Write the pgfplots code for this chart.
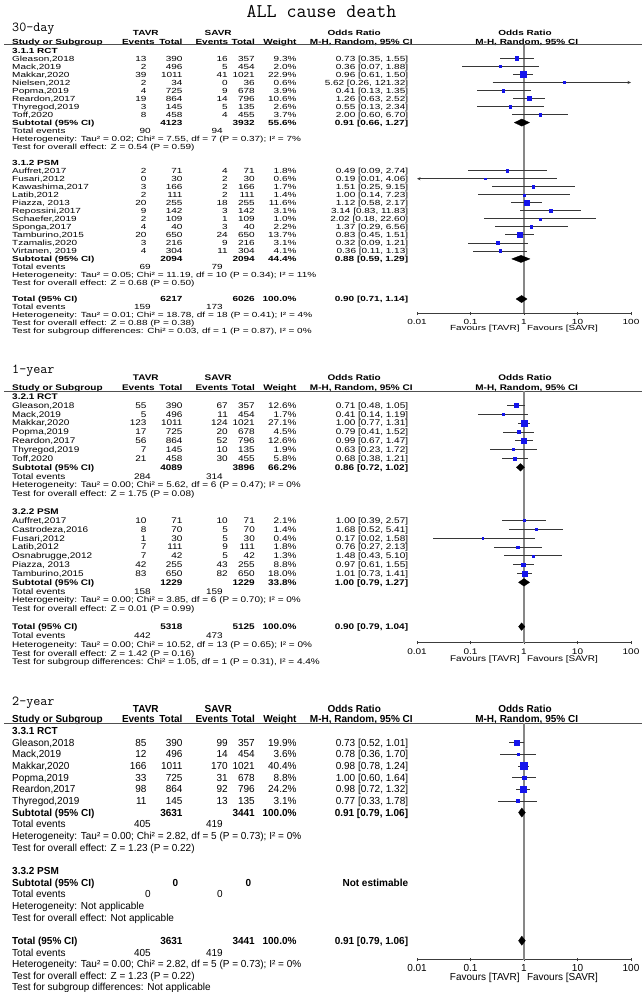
\documentclass[border=0pt]{standalone}
\usepackage{fontspec}
\usepackage{graphicx}
\usepackage{pgfplots}
\pgfplotsset{compat=1.18}
\usetikzlibrary{arrows.meta}
\newfontfamily\fa{Liberation Sans}[FakeStretch=1.35]
\newfontfamily\fb{Liberation Sans}[FakeStretch=1.225]
\newfontfamily\fc{Liberation Sans}[FakeStretch=0.98]
\definecolor{sqblue}{RGB}{20,20,235}
\definecolor{cigray}{RGB}{55,55,55}
\definecolor{vgray}{RGB}{135,135,135}
\definecolor{hgray}{RGB}{80,80,80}
\definecolor{axgray}{RGB}{60,60,60}
\tikzset{
 L/.style={anchor=west, inner sep=0pt, text height=\capht, text depth=0pt, font=\pfont},
 R/.style={anchor=east, inner sep=0pt, text height=\capht, text depth=0pt, font=\pfont},
 C/.style={anchor=center, inner sep=0pt, text height=\capht, text depth=0pt, font=\pfont}}
\newcommand\rowy[1]{-(\yz+\dy*(#1))}
\newcommand\tL[3]{\node[L] at (#1pt,{\rowy{#2}*1pt}) {#3};}
\newcommand\tR[3]{\node[R] at (#1pt,{\rowy{#2}*1pt}) {#3};}
\newcommand\study[8]{\tL{12}{#1}{#2}\tR{146.7}{#1}{#3}\tR{182.7}{#1}{#4}\tR{228}{#1}{#5}\tR{255}{#1}{#6}\tR{296.7}{#1}{#7\%}\tR{408.3}{#1}{#8}}
\newcommand\subt[6]{\tL{12}{#1}{\bfseries #2}\tR{182.7}{#1}{\bfseries #3}\tR{255}{#1}{\bfseries #4}\tR{296.7}{#1}{\bfseries #5\%}\tR{408.3}{#1}{\bfseries #6}}
\newcommand\totev[3]{\tL{12}{#1}{Total events}\tR{151}{#1}{#2}\tR{223}{#1}{#3}}
\newcommand\header[4]{% #1 tavr y, #2 study y, #3 line y, #4 favours y
 \node[C] at (145.8pt,-#1pt) {\bfseries TAVR};
 \node[C] at (218.2pt,-#1pt) {\bfseries SAVR};
 \node[C] at (354.2pt,-#1pt) {\bfseries Odds Ratio};
 \node[C] at (525pt,-#1pt) {\bfseries Odds Ratio};
 \node[L] at (12pt,-#2pt) {\bfseries Study or Subgroup};
 \node[R] at (155pt,-#2pt) {\bfseries Events};
 \node[R] at (182.7pt,-#2pt) {\bfseries Total};
 \node[R] at (228.5pt,-#2pt) {\bfseries Events};
 \node[R] at (255pt,-#2pt) {\bfseries Total};
 \node[R] at (296.7pt,-#2pt) {\bfseries Weight};
 \node[C] at (361.3pt,-#2pt) {\bfseries M-H, Random, 95\% CI};
 \node[C] at (526.7pt,-#2pt) {\bfseries M-H, Random, 95\% CI};
 \draw[hgray, line width=0.9pt] (4pt,-#3pt) -- (642pt,-#3pt);
 \node[R] at (519.8pt,-#4pt) {Favours [TAVR]};
 \node[L] at (526.8pt,-#4pt) {Favours [SAVR]};}
\pgfplotsset{every axis/.append style={anchor=south west, scale only axis, width=214pt,
  xmode=log, xmin=0.01, xmax=100, axis x line*=bottom, axis y line=none, ytick=\empty,
  xtick={0.01,0.1,1,10,100}, xticklabels={0.01,0.1,1,10,100}, xminorticks=false,
  xtick align=center, major tick length=3.5pt,
  x axis line style={draw=axgray, line width=0.8pt},
  tick style={draw=axgray, line width=0.8pt}, clip=false,
  xticklabel style={font=\pfont, inner sep=0pt, anchor=center, text height=\capht, text depth=0pt, yshift=-7pt}}}
\begin{document}
\begin{tikzpicture}
\path[use as bounding box] (0pt,0pt) rectangle (643pt,-992pt);
\node[anchor=base, inner sep=0pt, font=\ttfamily\fontsize{19.4}{20}\selectfont] at (321.5pt,-17.5pt) {ALL cause death};
% ================= Panel 1 =================
\begin{scope}
\def\pfont{\fa\fontsize{7.4}{9}\selectfont}\def\capht{5.3pt}
\def\yz{50.4}\def\dy{8.02}
\node[anchor=base west, inner sep=0pt, font=\ttfamily\fontsize{13.7}{14}\selectfont] at (12pt,-31.2pt) {30-day};
\header{32.5}{41.5}{44.8}{328}
\tL{12}{0}{\bfseries 3.1.1 RCT}
\study{1}{Gleason,2018}{13}{390}{16}{357}{9.3}{0.73 [0.35, 1.55]}
\study{2}{Mack,2019}{2}{496}{5}{454}{2.0}{0.36 [0.07, 1.88]}
\study{3}{Makkar,2020}{39}{1011}{41}{1021}{22.9}{0.96 [0.61, 1.50]}
\study{4}{Nielsen,2012}{2}{34}{0}{36}{0.6}{5.62 [0.26, 121.32]}
\study{5}{Popma,2019}{4}{725}{9}{678}{3.9}{0.41 [0.13, 1.35]}
\study{6}{Reardon,2017}{19}{864}{14}{796}{10.6}{1.26 [0.63, 2.52]}
\study{7}{Thyregod,2019}{3}{145}{5}{135}{2.6}{0.55 [0.13, 2.34]}
\study{8}{Toff,2020}{8}{458}{4}{455}{3.7}{2.00 [0.60, 6.70]}
\subt{9}{Subtotal (95\% CI)}{4123}{3932}{55.6}{0.91 [0.66, 1.27]}
\totev{10}{90}{94}
\tL{12}{11}{Heterogeneity: Tau² = 0.02; Chi² = 7.55, df = 7 (P = 0.37); I² = 7\%}
\tL{12}{12}{Test for overall effect: Z = 0.54 (P = 0.59)}
\tL{12}{14}{\bfseries 3.1.2 PSM}
\study{15}{Auffret,2017}{2}{71}{4}{71}{1.8}{0.49 [0.09, 2.74]}
\study{16}{Fusari,2012}{0}{30}{2}{30}{0.6}{0.19 [0.01, 4.06]}
\study{17}{Kawashima,2017}{3}{166}{2}{166}{1.7}{1.51 [0.25, 9.15]}
\study{18}{Latib,2012}{2}{111}{2}{111}{1.4}{1.00 [0.14, 7.23]}
\study{19}{Piazza, 2013}{20}{255}{18}{255}{11.6}{1.12 [0.58, 2.17]}
\study{20}{Repossini,2017}{9}{142}{3}{142}{3.1}{3.14 [0.83, 11.83]}
\study{21}{Schaefer,2019}{2}{109}{1}{109}{1.0}{2.02 [0.18, 22.60]}
\study{22}{Sponga,2017}{4}{40}{3}{40}{2.2}{1.37 [0.29, 6.56]}
\study{23}{Tamburino,2015}{20}{650}{24}{650}{13.7}{0.83 [0.45, 1.51]}
\study{24}{Tzamalis,2020}{3}{216}{9}{216}{3.1}{0.32 [0.09, 1.21]}
\study{25}{Virtanen, 2019}{4}{304}{11}{304}{4.1}{0.36 [0.11, 1.13]}
\subt{26}{Subtotal (95\% CI)}{2094}{2094}{44.4}{0.88 [0.59, 1.29]}
\totev{27}{69}{79}
\tL{12}{28}{Heterogeneity: Tau² = 0.05; Chi² = 11.19, df = 10 (P = 0.34); I² = 11\%}
\tL{12}{29}{Test for overall effect: Z = 0.68 (P = 0.50)}
\subt{31}{Total (95\% CI)}{6217}{6026}{100.0}{0.90 [0.71, 1.14]}
\totev{32}{159}{173}
\tL{12}{33}{Heterogeneity: Tau² = 0.01; Chi² = 18.78, df = 18 (P = 0.41); I² = 4\%}
\tL{12}{34}{Test for overall effect: Z = 0.88 (P = 0.38)}
\tL{12}{35}{Test for subgroup differences: Chi² = 0.03, df = 1 (P = 0.87), I² = 0\%}
\begin{axis}[at={(417pt,-313.3pt)}, height=268.5pt, ymin=-313.3, ymax=-44.8]
\addplot[vgray, line width=1.3pt] coordinates {(1,-44.8) (1,-313.3)};
\addplot[scatter, only marks, mark=square*,
  scatter/use mapped color={draw=sqblue, fill=sqblue},
  visualization depends on={0.4+0.5*sqrt(\thisrow{w}) \as \msz},
  scatter/@pre marker code/.append style={/tikz/mark size=\msz},
  error bars/x dir=both, error bars/x explicit, error bars/error mark=none,
  error bars/error bar style={draw=cigray, line width=0.75pt}]
 table[x=or, y expr={\rowy{\thisrow{i}}}, x error plus expr={\thisrow{hi}-\thisrow{or}}, x error minus expr={\thisrow{or}-\thisrow{lo}}] {
i or lo hi w
1 0.73 0.35 1.55 9.3
2 0.36 0.07 1.88 2.0
3 0.96 0.61 1.50 22.9
4 5.62 5.62 5.62 0.6
5 0.41 0.13 1.35 3.9
6 1.26 0.63 2.52 10.6
7 0.55 0.13 2.34 2.6
8 2.00 0.60 6.70 3.7
15 0.49 0.09 2.74 1.8
16 0.19 0.19 0.19 0.6
17 1.51 0.25 9.15 1.7
18 1.00 0.14 7.23 1.4
19 1.12 0.58 2.17 11.6
20 3.14 0.83 11.83 3.1
21 2.02 0.18 22.60 1.0
22 1.37 0.29 6.56 2.2
23 0.83 0.45 1.51 13.7
24 0.32 0.09 1.21 3.1
25 0.36 0.11 1.13 4.1
};
\addplot[draw=cigray, line width=0.75pt, -{Stealth[length=3.5pt,width=3pt]}] coordinates {(0.26,-82.48) (100,-82.48)};
\addplot[draw=cigray, line width=0.75pt, {Stealth[length=3.5pt,width=3pt]}-] coordinates {(0.01,-178.72) (4.06,-178.72)};
\addplot[fill=black, draw=black, line width=0.3pt] coordinates {(0.66,-122.58) (0.91,-118.98) (1.27,-122.58) (0.91,-126.18)} -- cycle;
\addplot[fill=black, draw=black, line width=0.3pt] coordinates {(0.59,-258.92) (0.88,-255.32) (1.29,-258.92) (0.88,-262.52)} -- cycle;
\addplot[fill=black, draw=black, line width=0.3pt] coordinates {(0.71,-299.02) (0.90,-295.42) (1.14,-299.02) (0.90,-302.62)} -- cycle;
\end{axis}
\end{scope}
% ================= Panel 2 =================
\begin{scope}
\def\pfont{\fb\fontsize{8.15}{9}\selectfont}\def\capht{5.84pt}
\def\yz{396.5}\def\dy{8.85}
\node[anchor=base west, inner sep=0pt, font=\ttfamily\fontsize{13.7}{14}\selectfont] at (12pt,-373.3pt) {1-year};
\header{378}{387.5}{391}{658.5}
\tL{12}{0}{\bfseries 3.2.1 RCT}
\study{1}{Gleason,2018}{55}{390}{67}{357}{12.6}{0.71 [0.48, 1.05]}
\study{2}{Mack,2019}{5}{496}{11}{454}{1.7}{0.41 [0.14, 1.19]}
\study{3}{Makkar,2020}{123}{1011}{124}{1021}{27.1}{1.00 [0.77, 1.31]}
\study{4}{Popma,2019}{17}{725}{20}{678}{4.5}{0.79 [0.41, 1.52]}
\study{5}{Reardon,2017}{56}{864}{52}{796}{12.6}{0.99 [0.67, 1.47]}
\study{6}{Thyregod,2019}{7}{145}{10}{135}{1.9}{0.63 [0.23, 1.72]}
\study{7}{Toff,2020}{21}{458}{30}{455}{5.8}{0.68 [0.38, 1.21]}
\subt{8}{Subtotal (95\% CI)}{4089}{3896}{66.2}{0.86 [0.72, 1.02]}
\totev{9}{284}{314}
\tL{12}{10}{Heterogeneity: Tau² = 0.00; Chi² = 5.62, df = 6 (P = 0.47); I² = 0\%}
\tL{12}{11}{Test for overall effect: Z = 1.75 (P = 0.08)}
\tL{12}{13}{\bfseries 3.2.2 PSM}
\study{14}{Auffret,2017}{10}{71}{10}{71}{2.1}{1.00 [0.39, 2.57]}
\study{15}{Castrodeza,2016}{8}{70}{5}{70}{1.4}{1.68 [0.52, 5.41]}
\study{16}{Fusari,2012}{1}{30}{5}{30}{0.4}{0.17 [0.02, 1.58]}
\study{17}{Latib,2012}{7}{111}{9}{111}{1.8}{0.76 [0.27, 2.13]}
\study{18}{Osnabrugge,2012}{7}{42}{5}{42}{1.3}{1.48 [0.43, 5.10]}
\study{19}{Piazza, 2013}{42}{255}{43}{255}{8.8}{0.97 [0.61, 1.55]}
\study{20}{Tamburino,2015}{83}{650}{82}{650}{18.0}{1.01 [0.73, 1.41]}
\subt{21}{Subtotal (95\% CI)}{1229}{1229}{33.8}{1.00 [0.79, 1.27]}
\totev{22}{158}{159}
\tL{12}{23}{Heterogeneity: Tau² = 0.00; Chi² = 3.85, df = 6 (P = 0.70); I² = 0\%}
\tL{12}{24}{Test for overall effect: Z = 0.01 (P = 0.99)}
\subt{26}{Total (95\% CI)}{5318}{5125}{100.0}{0.90 [0.79, 1.04]}
\totev{27}{442}{473}
\tL{12}{28}{Heterogeneity: Tau² = 0.00; Chi² = 10.52, df = 13 (P = 0.65); I² = 0\%}
\tL{12}{29}{Test for overall effect: Z = 1.42 (P = 0.16)}
\tL{12}{30}{Test for subgroup differences: Chi² = 1.05, df = 1 (P = 0.31), I² = 4.4\%}
\begin{axis}[at={(417pt,-642.5pt)}, height=251.5pt, ymin=-642.5, ymax=-391]
\addplot[vgray, line width=1.3pt] coordinates {(1,-391) (1,-642.5)};
\addplot[scatter, only marks, mark=square*,
  scatter/use mapped color={draw=sqblue, fill=sqblue},
  visualization depends on={0.4+0.5*sqrt(\thisrow{w}) \as \msz},
  scatter/@pre marker code/.append style={/tikz/mark size=\msz},
  error bars/x dir=both, error bars/x explicit, error bars/error mark=none,
  error bars/error bar style={draw=cigray, line width=0.75pt}]
 table[x=or, y expr={\rowy{\thisrow{i}}}, x error plus expr={\thisrow{hi}-\thisrow{or}}, x error minus expr={\thisrow{or}-\thisrow{lo}}] {
i or lo hi w
1 0.71 0.48 1.05 12.6
2 0.41 0.14 1.19 1.7
3 1.00 0.77 1.31 27.1
4 0.79 0.41 1.52 4.5
5 0.99 0.67 1.47 12.6
6 0.63 0.23 1.72 1.9
7 0.68 0.38 1.21 5.8
14 1.00 0.39 2.57 2.1
15 1.68 0.52 5.41 1.4
16 0.17 0.02 1.58 0.4
17 0.76 0.27 2.13 1.8
18 1.48 0.43 5.10 1.3
19 0.97 0.61 1.55 8.8
20 1.01 0.73 1.41 18.0
};
\addplot[fill=black, draw=black, line width=0.3pt] coordinates {(0.72,-467.3) (0.86,-463.5) (1.02,-467.3) (0.86,-471.1)} -- cycle;
\addplot[fill=black, draw=black, line width=0.3pt] coordinates {(0.79,-582.35) (1.00,-578.55) (1.27,-582.35) (1.00,-586.15)} -- cycle;
\addplot[fill=black, draw=black, line width=0.3pt] coordinates {(0.79,-626.6) (0.90,-622.8) (1.04,-626.6) (0.90,-630.4)} -- cycle;
\end{axis}
\end{scope}
% ================= Panel 3 =================
\begin{scope}
\def\pfont{\fc\fontsize{10.2}{12}\selectfont}\def\capht{7.3pt}
\def\yz{731}\def\dy{11.65}
\node[anchor=base west, inner sep=0pt, font=\ttfamily\fontsize{13.7}{14}\selectfont] at (12pt,-705.7pt) {2-year};
\header{709.3}{718.5}{723}{976.7}
\tL{12}{0}{\bfseries 3.3.1 RCT}
\study{1}{Gleason,2018}{85}{390}{99}{357}{19.9}{0.73 [0.52, 1.01]}
\study{2}{Mack,2019}{12}{496}{14}{454}{3.6}{0.78 [0.36, 1.70]}
\study{3}{Makkar,2020}{166}{1011}{170}{1021}{40.4}{0.98 [0.78, 1.24]}
\study{4}{Popma,2019}{33}{725}{31}{678}{8.8}{1.00 [0.60, 1.64]}
\study{5}{Reardon,2017}{98}{864}{92}{796}{24.2}{0.98 [0.72, 1.32]}
\study{6}{Thyregod,2019}{11}{145}{13}{135}{3.1}{0.77 [0.33, 1.78]}
\subt{7}{Subtotal (95\% CI)}{3631}{3441}{100.0}{0.91 [0.79, 1.06]}
\totev{8}{405}{419}
\tL{12}{9}{Heterogeneity: Tau² = 0.00; Chi² = 2.82, df = 5 (P = 0.73); I² = 0\%}
\tL{12}{10}{Test for overall effect: Z = 1.23 (P = 0.22)}
\tL{12}{12}{\bfseries 3.3.2 PSM}
\tL{12}{13}{\bfseries Subtotal (95\% CI)}
\tR{178.5}{13}{\bfseries 0}
\tR{251.5}{13}{\bfseries 0}
\tR{408.3}{13}{\bfseries Not estimable}
\totev{14}{0}{0}
\tL{12}{15}{Heterogeneity: Not applicable}
\tL{12}{16}{Test for overall effect: Not applicable}
\subt{18}{Total (95\% CI)}{3631}{3441}{100.0}{0.91 [0.79, 1.06]}
\totev{19}{405}{419}
\tL{12}{20}{Heterogeneity: Tau² = 0.00; Chi² = 2.82, df = 5 (P = 0.73); I² = 0\%}
\tL{12}{21}{Test for overall effect: Z = 1.23 (P = 0.22)}
\tL{12}{22}{Test for subgroup differences: Not applicable}
\begin{axis}[at={(417pt,-959.5pt)}, height=236.5pt, ymin=-959.5, ymax=-723]
\addplot[vgray, line width=1.3pt] coordinates {(1,-723) (1,-959.5)};
\addplot[scatter, only marks, mark=square*,
  scatter/use mapped color={draw=sqblue, fill=sqblue},
  visualization depends on={0.4+0.5*sqrt(\thisrow{w}) \as \msz},
  scatter/@pre marker code/.append style={/tikz/mark size=\msz},
  error bars/x dir=both, error bars/x explicit, error bars/error mark=none,
  error bars/error bar style={draw=cigray, line width=0.75pt}]
 table[x=or, y expr={\rowy{\thisrow{i}}}, x error plus expr={\thisrow{hi}-\thisrow{or}}, x error minus expr={\thisrow{or}-\thisrow{lo}}] {
i or lo hi w
1 0.73 0.52 1.01 19.9
2 0.78 0.36 1.70 3.6
3 0.98 0.78 1.24 40.4
4 1.00 0.60 1.64 8.8
5 0.98 0.72 1.32 24.2
6 0.77 0.33 1.78 3.1
};
\addplot[fill=black, draw=black, line width=0.3pt] coordinates {(0.79,-812.55) (0.91,-807.95) (1.06,-812.55) (0.91,-817.15)} -- cycle;
\addplot[fill=black, draw=black, line width=0.3pt] coordinates {(0.79,-940.7) (0.91,-936.1) (1.06,-940.7) (0.91,-945.3)} -- cycle;
\end{axis}
\end{scope}
\end{tikzpicture}
\end{document}
